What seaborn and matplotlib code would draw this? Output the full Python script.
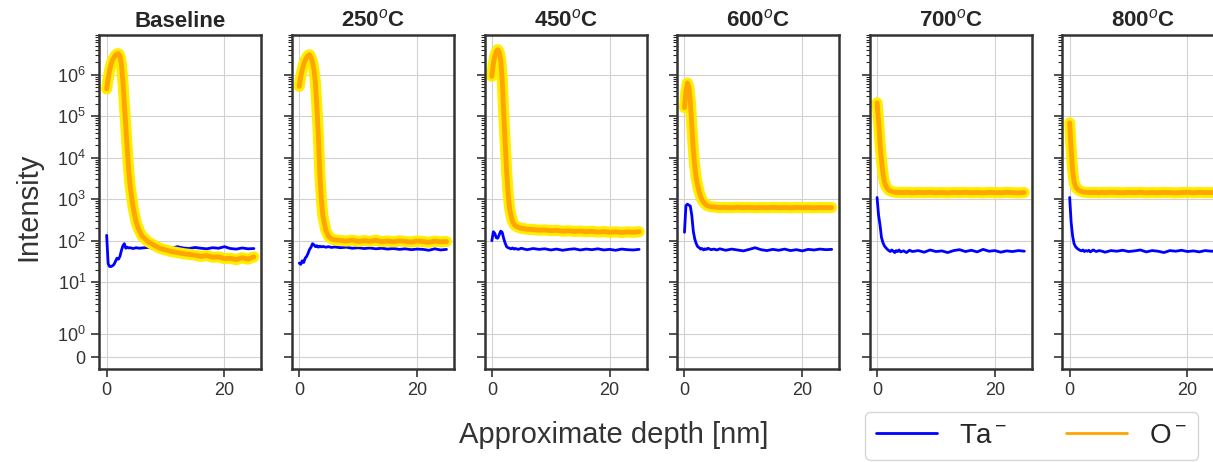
import matplotlib
matplotlib.use("Agg")
import matplotlib.pyplot as plt
import matplotlib.patheffects as pe
from matplotlib.lines import Line2D
import seaborn as sns

# depth axis shared by every panel [nm]
depth = [0, 0.25, 0.5, 0.75, 1.0, 1.25, 1.5, 1.75, 2.0, 2.25, 2.5, 2.75, 3.0, 3.25, 3.5, 3.75, 4.0,
         4.5, 5.0, 5.5, 6.0, 7, 8, 9, 10, 11, 12, 13, 14, 15, 16, 17, 18, 19, 20, 21, 22, 23, 24, 25]

titles = ['Baseline', '250$^o$C', '450$^o$C', '600$^o$C', '700$^o$C', '800$^o$C']

# Ta- intensities
ta_base = [135, 28, 24, 24, 25, 27, 32, 38, 36, 42, 58, 75, 85, 66, 70, 67, 68,
           65, 68, 66, 67, 69, 66,
           68, 70, 66, 72, 67, 65, 69, 66, 64, 68, 66, 72, 65, 63, 67, 64, 65]
ta_250 = [29, 27, 33, 30, 38, 42, 50, 62, 70, 85, 80, 72, 76, 70, 74, 71, 73,
          70, 72, 69, 71, 68, 70,
          66, 68, 65, 67, 64, 66, 63, 65, 62, 64, 61, 63, 62, 59, 64, 60, 62]
ta_450 = [100, 165, 150, 118, 115, 140, 170, 160, 115, 88, 72, 68, 66, 64, 67, 63, 65,
          62, 66, 63, 61, 65, 62,
          64, 60, 63, 59, 62, 64, 60, 63, 61, 64, 60, 62, 59, 63, 61, 60, 62]
ta_600 = [160, 700, 760, 720, 680, 400, 170, 110, 85, 72, 68, 63, 65, 60, 64, 62, 66,
          61, 63, 60, 64, 59, 63,
          60, 57, 62, 68, 61, 58, 62, 59, 63, 58, 61, 57, 62, 60, 63, 61, 62]
ta_700 = [1100, 420, 240, 120, 90, 75, 68, 62, 58, 55, 60, 56, 52, 58, 55, 60, 54,
          57, 52, 59, 55, 58, 53,
          60, 55, 57, 52, 58, 61, 55, 59, 54, 62, 56, 58, 53, 57, 55, 58, 56]
ta_800 = [1100, 280, 130, 85, 72, 66, 62, 59, 57, 60, 55, 58, 56, 59, 54, 57, 60,
          55, 58, 56, 53, 58, 56,
          59, 55, 57, 60, 54, 58, 56, 52, 58, 56, 59, 55, 57, 54, 58, 56, 57]

# O- intensities
o_base = [4.5e5, 7.9e5, 1.26e6, 1.78e6, 2.24e6, 2.6e6, 2.95e6, 3.16e6, 3.2e6, 2.8e6, 1.8e6, 7.1e5,
          2.0e5, 5.6e4, 1.6e4, 5.0e3, 2.0e3,
          630, 280, 180, 130, 95, 79,
          66, 60, 55, 52, 49, 47, 45, 42, 44, 40, 41, 37, 38, 35, 39, 36, 41]
o_250 = [5.2e5, 8.9e5, 1.3e6, 1.8e6, 2.2e6, 2.6e6, 2.9e6, 3.0e6, 2.6e6, 2.0e6, 1.3e6, 6.3e5,
         1.6e5, 3.2e4, 4.0e3, 1.0e3, 400,
         180, 126, 110, 105, 102, 98,
         104, 96, 101, 97, 103, 95, 99, 94, 100, 96, 93, 99, 95, 92, 98, 94, 96]
o_450 = [9.1e5, 1.8e6, 2.8e6, 3.6e6, 4.0e6, 3.5e6, 2.2e6, 7.9e5, 1.3e5, 2.5e4, 5.0e3, 1.4e3,
         630, 400, 300, 250, 230,
         210, 200, 195, 190, 186, 180,
         182, 175, 178, 170, 174, 168, 171, 165, 169, 162, 166, 160, 164, 158, 163, 160, 165]
o_600 = [1.6e5, 4.0e5, 6.3e5, 5.0e5, 2.3e5, 5.6e4, 1.6e4, 6.3e3, 3.2e3, 2.1e3, 1.5e3, 1.15e3,
         950, 850, 780, 720, 690,
         660, 650, 640, 630, 635, 625,
         640, 628, 636, 622, 633, 626, 638, 624, 631, 620, 635, 627, 632, 621, 634, 626, 630]
o_700 = [2.1e5, 7.9e4, 2.2e4, 8.9e3, 4.2e3, 2.6e3, 2.1e3, 1.8e3, 1.66e3, 1.58e3, 1.55e3, 1.5e3,
         1.48e3, 1.46e3, 1.47e3, 1.45e3, 1.46e3,
         1.44e3, 1.47e3, 1.45e3, 1.43e3, 1.46e3, 1.44e3,
         1.47e3, 1.43e3, 1.45e3, 1.42e3, 1.46e3, 1.44e3, 1.47e3, 1.43e3, 1.45e3, 1.42e3, 1.46e3,
         1.44e3, 1.43e3, 1.47e3, 1.44e3, 1.42e3, 1.45e3]
o_800 = [6.9e4, 1.6e4, 5.0e3, 2.6e3, 2.0e3, 1.8e3, 1.66e3, 1.58e3, 1.55e3, 1.5e3, 1.48e3, 1.47e3,
         1.46e3, 1.45e3, 1.47e3, 1.44e3, 1.46e3,
         1.45e3, 1.43e3, 1.46e3, 1.44e3, 1.47e3, 1.45e3,
         1.43e3, 1.46e3, 1.44e3, 1.47e3, 1.42e3, 1.45e3, 1.43e3, 1.46e3, 1.44e3, 1.42e3, 1.45e3,
         1.47e3, 1.43e3, 1.46e3, 1.44e3, 1.45e3, 1.43e3]

ta_series = [ta_base, ta_250, ta_450, ta_600, ta_700, ta_800]
o_series = [o_base, o_250, o_450, o_600, o_700, o_800]

sns.set_style('ticks', {'axes.grid': True, 'grid.color': '.82', 'axes.edgecolor': '.2'})
plt.rcParams['font.family'] = ['Liberation Sans', 'DejaVu Sans']
plt.rcParams['mathtext.fontset'] = 'custom'
plt.rcParams['mathtext.rm'] = 'Liberation Sans'
plt.rcParams['mathtext.it'] = 'Liberation Sans:italic'
plt.rcParams['mathtext.bf'] = 'Liberation Sans:bold'

W, H = 1213, 462
fig = plt.figure(figsize=(W / 100, H / 100), dpi=100)

glow = [pe.Stroke(linewidth=8, foreground='#ffee00'), pe.Normal()]
axes = []
for i, (title, ta, o) in enumerate(zip(titles, ta_series, o_series)):
    left = (99.3 + 192.6 * i) / W
    ax = fig.add_axes([left, (H - 369) / H, 162 / W, 334 / H],
                      sharey=axes[0] if axes else None)
    axes.append(ax)

    sns.lineplot(x=depth, y=ta, ax=ax, color='blue', lw=2)
    sns.lineplot(x=depth, y=o, ax=ax, color='orange', lw=3.5, path_effects=glow)

    ax.set_yscale('symlog', linthresh=2, subs=range(2, 10))
    ax.set_ylim(-0.5, 9e6)
    ax.set_xlim(-1.25, 26.25)
    ax.set_xticks([0, 20])
    ax.set_yticks([0, 1, 10, 100, 1e3, 1e4, 1e5, 1e6])
    ax.set_xlabel('')
    ax.set_ylabel('')
    ax.set_title(title, fontsize=16, fontweight='bold')
    ax.tick_params(labelsize=13, colors='.2', width=1.2, length=6)
    ax.tick_params(which='minor', length=3, width=0.8)
    if i > 0:
        ax.tick_params(labelleft=False)
    for s in ax.spines.values():
        s.set_linewidth(1.8)

fig.text(614 / W, 1 - 435 / H, 'Approximate depth [nm]', ha='center', va='center',
         fontsize=21, color='.2')
fig.text(28 / W, 1 - 207 / H, 'Intensity', ha='center', va='center', rotation=90,
         fontsize=21, color='.2')

handles = [Line2D([], [], color='blue', lw=2), Line2D([], [], color='orange', lw=2)]
fig.legend(handles, ['Ta$^-$', 'O$^-$'], ncol=2, loc='lower left',
           bbox_to_anchor=(865 / W, 2 / H), borderaxespad=0, fontsize=20,
           handlelength=2.2, columnspacing=2.1, frameon=True)

fig.savefig('out.png', dpi=100)
